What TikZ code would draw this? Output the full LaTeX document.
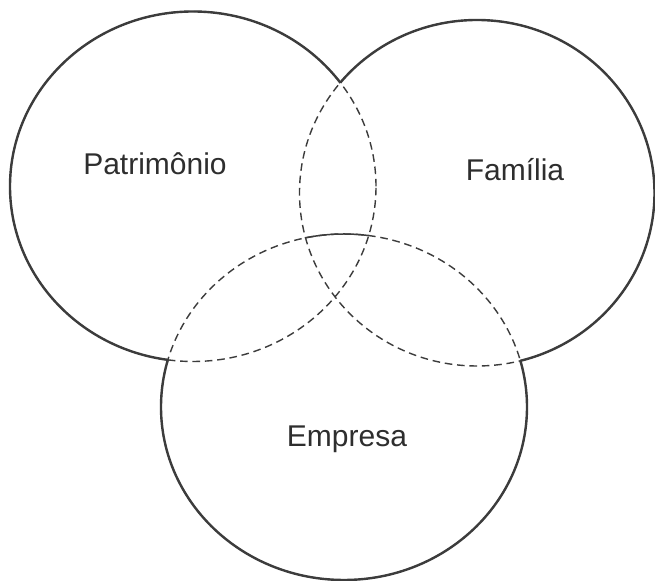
\documentclass[tikz,border=0pt]{standalone}
\usepackage{fontspec}
\setmainfont{Liberation Sans}
\usepackage{xcolor}
\definecolor{ink}{HTML}{3C3C3C}
\definecolor{txt}{HTML}{2E2E2E}

\begin{document}
\begin{tikzpicture}[x=0.5pt,y=-0.5pt,
      rim/.style={draw=ink,line width=1.2pt},
      seam/.style={draw=ink,line width=0.7pt,dash pattern=on 3.8pt off 2.4pt},
      toparc/.style={draw=ink,line width=0.75pt},
      lbl/.style={anchor=base,text=txt,font=\fontsize{15}{18}\selectfont}]
    \fill[white] (0,0) rectangle (655,581);
    \useasboundingbox (0,0) rectangle (655,581);
    \coordinate (P) at (193,186.5);
    \coordinate (F) at (477,193);
    \coordinate (E) at (344,407);
    % dashed inner parts
    \draw[seam] (P) ellipse [x radius=91.5pt,y radius=87.5pt];
    \draw[seam] (F) ellipse [x radius=88.75pt,y radius=86.5pt];
    \draw[seam] (E) ellipse [x radius=91.5pt,y radius=86.5pt];
    % solid outer rims
    \begin{scope}[even odd rule]
      \clip (-20,-20) rectangle (675,601) (F) ellipse [x radius=88.75pt,y radius=86.5pt];
      \clip (-20,-20) rectangle (675,601) (E) ellipse [x radius=91.5pt,y radius=86.5pt];
      \draw[rim] (P) ellipse [x radius=91.5pt,y radius=87.5pt];
    \end{scope}
    \begin{scope}[even odd rule]
      \clip (-20,-20) rectangle (675,601) (P) ellipse [x radius=91.5pt,y radius=87.5pt];
      \clip (-20,-20) rectangle (675,601) (E) ellipse [x radius=91.5pt,y radius=86.5pt];
      \draw[rim] (F) ellipse [x radius=88.75pt,y radius=86.5pt];
    \end{scope}
    \begin{scope}[even odd rule]
      \clip (-20,-20) rectangle (675,601) (P) ellipse [x radius=91.5pt,y radius=87.5pt];
      \clip (-20,-20) rectangle (675,601) (F) ellipse [x radius=88.75pt,y radius=86.5pt];
      \draw[rim] (E) ellipse [x radius=91.5pt,y radius=86.5pt];
    \end{scope}
    % solid top of Empresa inside the middle
    \begin{scope}
      \clip (P) ellipse [x radius=91.5pt,y radius=87.5pt];
      \clip (F) ellipse [x radius=88.75pt,y radius=86.5pt];
      \draw[toparc] (E) ellipse [x radius=91.5pt,y radius=86.5pt];
    \end{scope}
    % labels
    \node[lbl] (patr) at (155,175) {Patrimônio};
    \node[lbl] (fam) at (515,181) {Família};
    \node[lbl] (emp) at (347,447) {Empresa};
\end{tikzpicture}
\end{document}
